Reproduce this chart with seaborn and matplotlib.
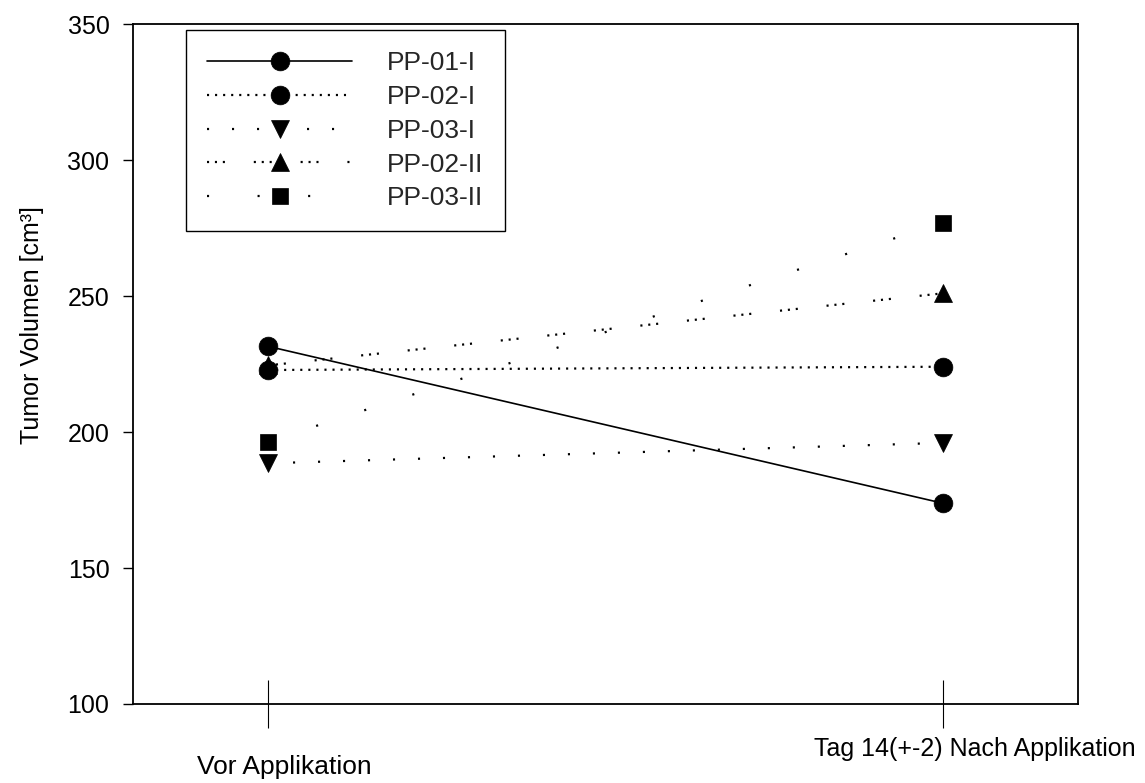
import matplotlib
matplotlib.use("Agg")
import matplotlib.pyplot as plt
import matplotlib.transforms as mtransforms
from matplotlib.lines import Line2D
import numpy as np
import pandas as pd
import seaborn as sns

# values
series = ["PP-01-I", "PP-02-I", "PP-03-I", "PP-02-II", "PP-03-II"]
vor = [231.5, 222.8, 188.5, 224.5, 196.5]
nach = [173.8, 224.0, 196.0, 251.0, 277.0]
zeitpunkte = [1, 2]
zeit_labels = ["Vor Applikation", "Tag 14(+-2) Nach Applikation"]

df = pd.DataFrame({
    "Serie": np.repeat(series, 2),
    "Zeit": zeitpunkte * len(series),
    "Volumen": [v for pair in zip(vor, nach) for v in pair],
})

sns.set_style("ticks")
plt.rcParams["font.family"] = ["Liberation Sans", "DejaVu Sans"]
plt.rcParams["lines.scale_dashes"] = False

markers = {"PP-01-I": "o", "PP-02-I": "o", "PP-03-I": "v",
           "PP-02-II": "^", "PP-03-II": "s"}
dashes = {"PP-01-I": "", "PP-02-I": (1.5, 4.3), "PP-03-I": (1.5, 16.5),
          "PP-02-II": (1.5, 4.2, 1.5, 4.2, 1.5, 20.8), "PP-03-II": (1.5, 34.9)}
palette = {s: "black" for s in series}

fig, ax = plt.subplots(figsize=(11.45, 7.83), dpi=100)
fig.subplots_adjust(left=0.1162, right=0.9415, bottom=0.1009, top=0.9693)

sns.lineplot(data=df, x="Zeit", y="Volumen", hue="Serie", style="Serie",
             hue_order=series, style_order=series, palette=palette,
             markers=markers, dashes=dashes, markersize=13.5, linewidth=1.2,
             markeredgecolor="black", markeredgewidth=0.5,
             estimator=None, sort=False, legend=False, ax=ax)

# dotted lines are drawn heavier, square marker a bit smaller
for line in ax.lines:
    if line.get_linestyle() != "-":
        line.set_linewidth(1.6)
    if line.get_marker() == "s":
        line.set_markersize(11.5)

ax.set_xlim(0.8, 2.2)
ax.set_ylim(100, 350)
ax.set_yticks(range(100, 351, 50))
ax.set_xticks(zeitpunkte, labels=zeit_labels)
ax.set_xlabel("")
ax.set_ylabel("Tumor Volumen [cm³]", fontsize=18, color="black")
ax.yaxis.set_label_coords(-0.094, 0.557)

ax.tick_params(axis="y", direction="out", length=7, width=1, labelsize=18,
               pad=10, colors="black")
ax.tick_params(axis="x", direction="inout", length=34, width=0.8,
               labelsize=18, pad=7, colors="black")
for sp in ax.spines.values():
    sp.set_visible(True)
    sp.set_color("black")
    sp.set_linewidth(1.3)

# staggered x labels as in the original
shifts = [(16, -18), (32, 0)]
xlabs = ax.get_xticklabels()
xlabs[0].set_fontsize(19)
for lab, (dx, dy) in zip(xlabs, shifts):
    lab.set_transform(lab.get_transform() +
                      mtransforms.ScaledTranslation(dx / 100, dy / 100, fig.dpi_scale_trans))

handles = []
for s in series:
    ls = "-" if dashes[s] == "" else (0, dashes[s])
    ms = 11.5 if markers[s] == "s" else 13.5
    handles.append(Line2D([], [], color="black", linestyle=ls,
                          linewidth=1.2 if ls == "-" else 1.6,
                          marker=markers[s], markersize=ms,
                          markeredgecolor="black", markeredgewidth=0.5))
leg = ax.legend(handles, series, loc="upper left", bbox_to_anchor=(0.056, 0.991),
                borderaxespad=0, fontsize=19, handlelength=5.5, handletextpad=1.33,
                labelspacing=0.37, borderpad=0.8, frameon=True, fancybox=False,
                edgecolor="black", framealpha=1, numpoints=1)
leg.get_frame().set_linewidth(1.0)

fig.savefig("out.png", dpi=100)
